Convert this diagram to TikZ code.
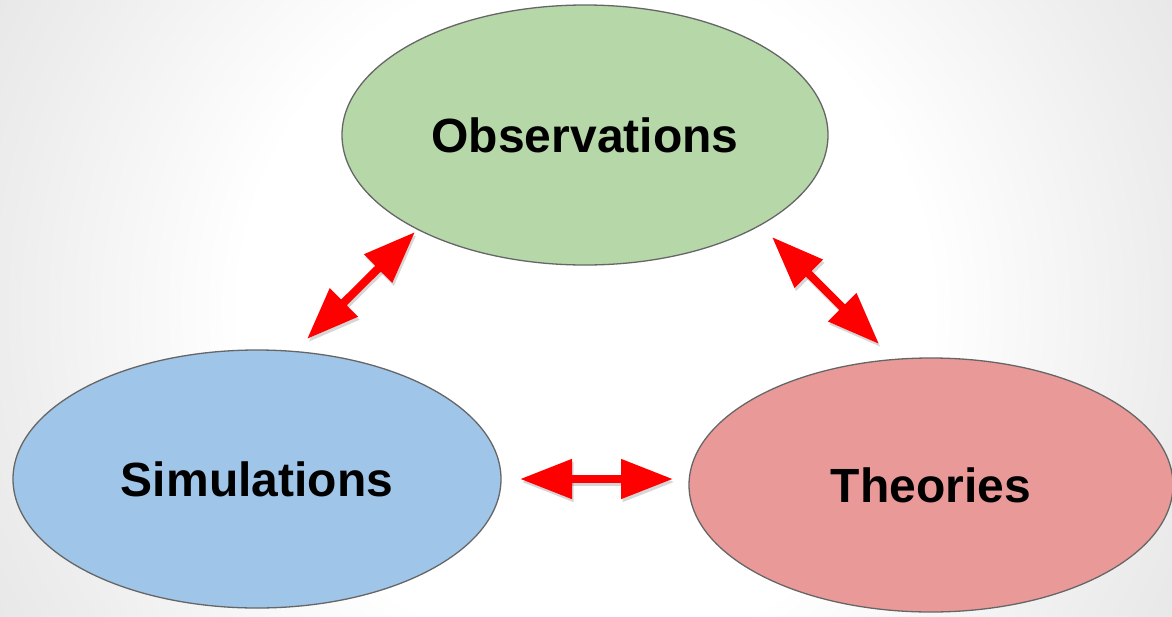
\documentclass[tikz,border=0pt]{standalone}
\usepackage{fontspec}
\setmainfont{Liberation Sans}
\usetikzlibrary{arrows.meta,shapes.geometric}
\definecolor{obsgreen}{HTML}{B6D7A8}
\definecolor{simblue}{HTML}{9FC5E8}
\definecolor{theopink}{HTML}{EA9999}
\definecolor{edgegray}{HTML}{666666}
\pgfdeclareradialshading{bgshade}{\pgfpoint{0bp}{0bp}}{color(0bp)=(white); color(13bp)=(white); color(22bp)=(black!7); color(25bp)=(black!9); color(50bp)=(black!9)}
\begin{document}
\begin{tikzpicture}[x=1pt,y=-1pt,
  bubble/.style={ellipse, draw=edgegray, line width=1.3pt, inner sep=0pt,
    font=\fontsize{48}{57}\selectfont\bfseries, text=black},
  link/.style={draw=red, line width=8pt,
    {Triangle[length=52pt,width=38pt]}-{Triangle[length=52pt,width=38pt]}},
  linkshadow/.style={draw=black, opacity=0.16, line width=8pt,
    {Triangle[length=52pt,width=38pt]}-{Triangle[length=52pt,width=38pt]},
    transform canvas={shift={(1.5pt,-3pt)}}}]
\begin{scope}
\clip (0,0) rectangle (1172,616);
\shade[shading=bgshade] (-76,-354) rectangle (1248,970);
\end{scope}
\useasboundingbox (0,0) rectangle (1172,616);
\node[bubble, fill=obsgreen, minimum width=486pt, minimum height=260pt] (obs) at (585,135) {Observations};
\node[bubble, fill=simblue, minimum width=488pt, minimum height=258pt] (sim) at (257,479) {Simulations};
\node[bubble, fill=theopink, minimum width=484pt, minimum height=254pt] (theo) at (931,485) {Theories};
\coordinate (l1) at (307,339);
\coordinate (l2) at (415,232);
\coordinate (r1) at (772,237);
\coordinate (r2) at (879,344);
\coordinate (b1) at (520,479);
\coordinate (b2) at (673,479);
\draw[linkshadow] (l1) -- (l2);
\draw[linkshadow] (r1) -- (r2);
\draw[linkshadow] (b1) -- (b2);
\draw[link] (l1) -- (l2);
\draw[link] (r1) -- (r2);
\draw[link] (b1) -- (b2);
\end{tikzpicture}
\end{document}
